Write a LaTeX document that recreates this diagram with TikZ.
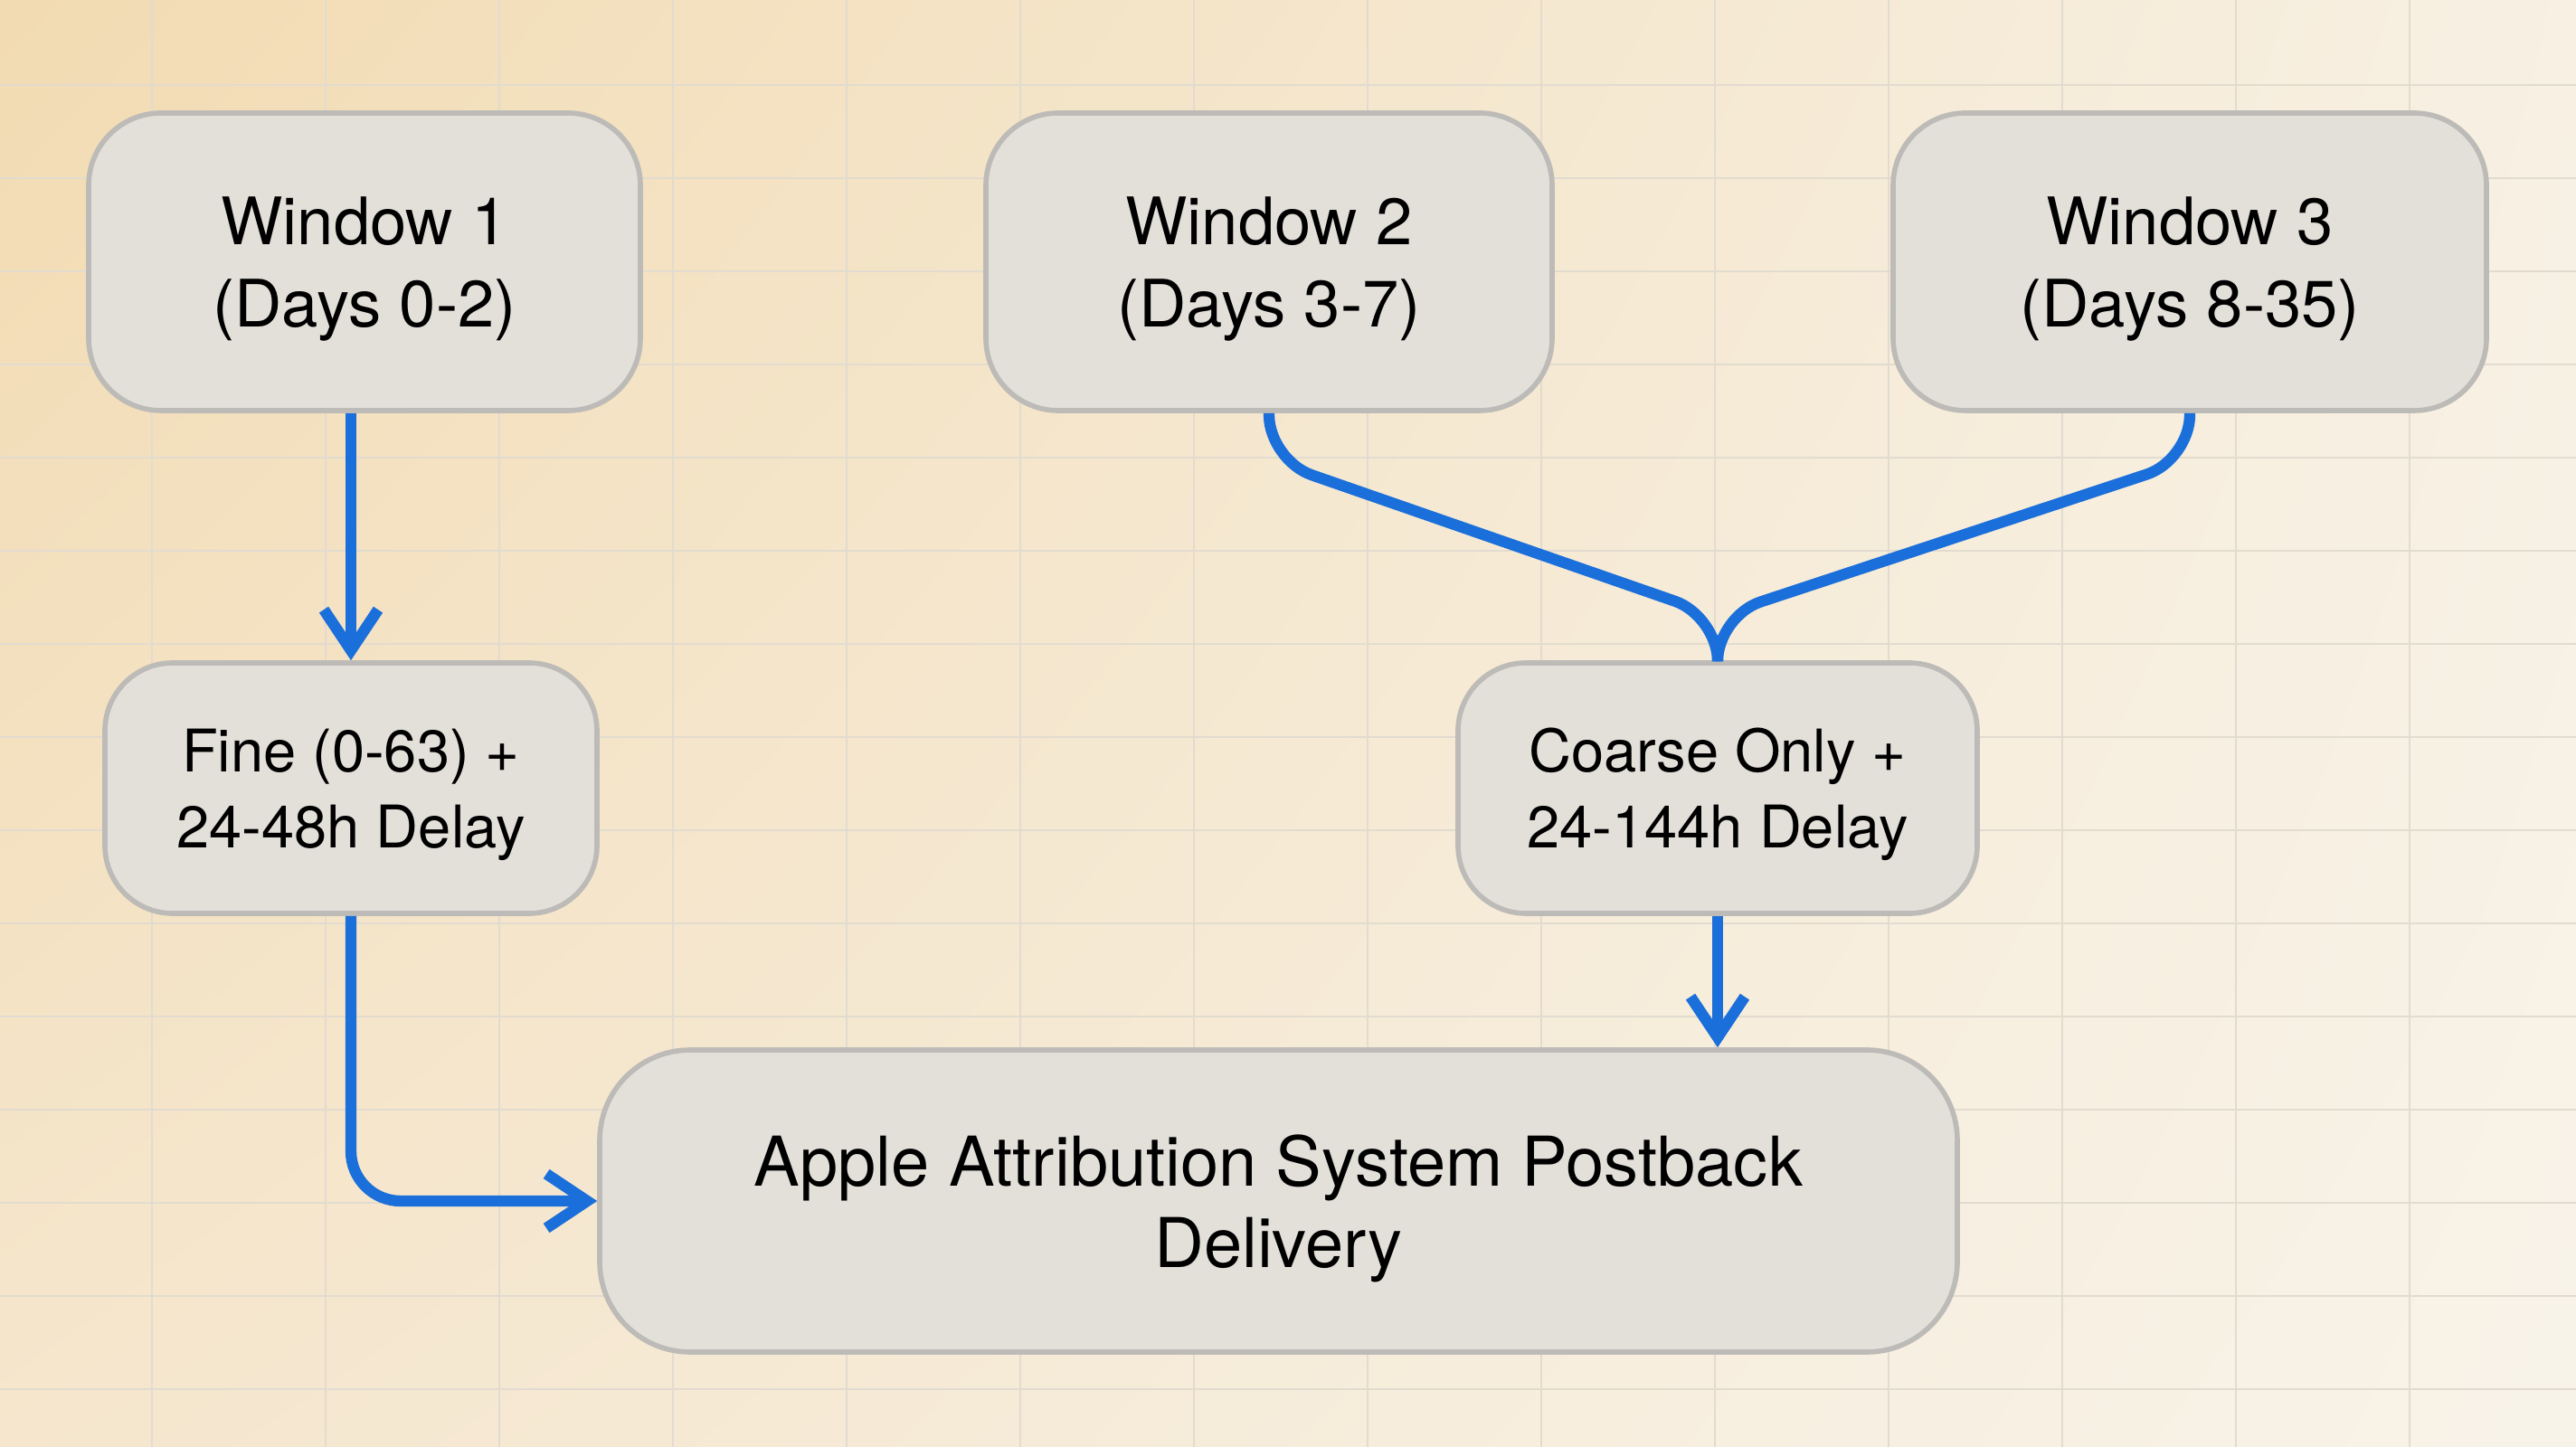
\documentclass[tikz,border=0pt]{standalone}
\usepackage{fontspec}
\setmainfont{TeX Gyre Heros}
\usepackage{tikz}
\usetikzlibrary{arrows.meta, shadings}

\definecolor{bgA}{HTML}{F2DBB2}
\definecolor{bgB}{HTML}{F7F0E3}
\definecolor{bgC}{HTML}{F5E6CD}
\definecolor{bgD}{HTML}{F8F3E9}
\definecolor{gridc}{HTML}{E2DBCF}
\definecolor{boxfill}{HTML}{E3E0DA}
\definecolor{boxline}{HTML}{BDBBB7}
\definecolor{flowblue}{HTML}{1B6FDA}

\begin{document}
\begin{tikzpicture}[
    box/.style={draw=boxline, line width=1.6pt, fill=boxfill, align=center, inner sep=0pt, text depth=0pt},
    winbox/.style={box, rounded corners=0.8cm, minimum height=3.29cm, font=\fontsize{20.6}{26}\selectfont},
    midbox/.style={box, rounded corners=0.75cm, minimum height=2.77cm, font=\fontsize{18.5}{24}\selectfont},
    link/.style={draw=flowblue, line width=3.5pt},
    flow/.style={link, -{Straight Barb[length=4.5mm,width=6mm]}}
  ]
      \useasboundingbox (0,0) rectangle (28.48,-16);
      \shade[upper left=bgA, upper right=bgB, lower left=bgC, lower right=bgD] (0,0) rectangle (28.48,-16);
      \foreach \x in {1.68,3.60,...,27.5}
        \draw[gridc, line width=0.8pt] (\x,0) -- (\x,-16);
      \foreach \y in {-0.94,-1.97,...,-16}
        \draw[gridc, line width=0.8pt] (0,\y) -- (28.48,\y);

      \node[winbox, minimum width=6.10cm] (w1) at (4.03,-2.895) {Window 1\\(Days 0-2)};
      \node[winbox, minimum width=6.26cm] (w2) at (14.03,-2.895) {Window 2\\(Days 3-7)};
      \node[winbox, minimum width=6.56cm] (w3) at (24.21,-2.895) {Window 3\\(Days 8-35)};
      \node[midbox, minimum width=5.44cm] (fine) at (3.88,-8.715) {Fine (0-63) +\\24-48h Delay};
      \node[midbox, minimum width=5.74cm] (coarse) at (18.99,-8.715) {Coarse Only +\\24-144h Delay};
      \node[box, rounded corners=1cm, minimum width=15.01cm, minimum height=3.34cm,
            font=\fontsize{21.6}{25.5}\selectfont] (apple) at (14.135,-13.28)
            {Apple Attribution System Postback\\Delivery};

      \path (coarse.north) ++(0,0.49) coordinate (merge);
      \draw[flow] (w1.south -| fine.north) -- (fine.north);
      \draw[flow, rounded corners=0.55cm] (fine.south) |- (apple.west);
      \draw[link, rounded corners=0.5cm] (w2.south) -- ++(0,-0.52) -- (merge) -- (coarse.north);
      \draw[link, rounded corners=0.5cm] (w3.south) -- ++(0,-0.52) -- (merge) -- (coarse.north);
      \draw[flow] (coarse.south) -- (coarse.south |- apple.north);
\end{tikzpicture}
\end{document}
